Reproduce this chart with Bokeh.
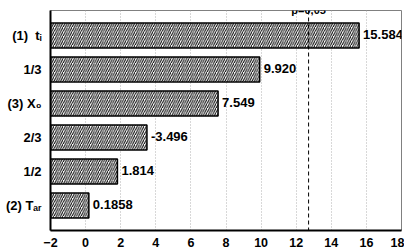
from bokeh.plotting import figure
from bokeh.models import ColumnDataSource, Span, Label, FixedTicker
from bokeh.core.properties import value
from bokeh.embed import file_html
from bokeh.resources import INLINE

# Data (top to bottom)
factors = ["(1)\u00a0\u00a0tᵢ", "1/3", "(3) X₀", "2/3", "1/2", "(2) Tₐᵣ"]
effects = [15.584, 9.920, 7.549, -3.496, 1.814, 0.1858]
x_ticks = [-2, 0, 2, 4, 6, 8, 10, 12, 14, 16, 18]
t_critical = 12.706
crit_label = "p=0,05"

n = len(factors)
ypos = [n - 1 - i for i in range(n)]
labels = [f"{v:.3f}" if abs(v) >= 1 else f"{v:.4f}" for v in effects]
src = ColumnDataSource(dict(
    y=ypos,
    right=[abs(v) for v in effects],
    left=[x_ticks[0]] * n,
    lab=labels,
))

FONT = "Liberation Sans"
y_lo, y_hi = -0.735, n - 1 + 0.735

p = figure(width=404, height=252, output_backend="svg", toolbar_location=None,
           x_range=(x_ticks[0], x_ticks[-1]), y_range=(y_lo, y_hi),
           min_border_left=50, min_border_right=3, min_border_top=10, min_border_bottom=22)

p.background_fill_color = "white"
p.border_fill_color = "white"
p.outline_line_color = "#808080"
p.outline_line_width = 1

p.hbar(y="y", left="left", right="right", height=0.74, source=src,
       fill_color="white", line_color="black", line_width=1.5,
       hatch_pattern="/", hatch_color="black", hatch_scale=4.5, hatch_weight=1)

p.text(x="right", y="y", text="lab", source=src, x_offset=4, y_offset=-1,
       text_font=value(FONT), text_font_style="bold", text_font_size="13px",
       text_baseline="middle", text_align="left", text_color="black")

p.add_layout(Span(location=t_critical, dimension="height", line_color="black",
                  line_width=1, line_dash="4 3"))

# critical-value label just above the frame
p.add_layout(Label(x=t_critical, y=y_hi, x_units="data", y_units="data", y_offset=1,
                   text=crit_label, text_align="center", text_baseline="alphabetic",
                   text_font=FONT, text_font_style="bold", text_font_size="11px",
                   text_color="black"))

# x axis (below)
xa = p.below[0]
xa.ticker = FixedTicker(ticks=x_ticks)
xa.axis_line_color = "black"
xa.axis_line_width = 2
xa.major_tick_in = 0
xa.major_tick_out = 0
xa.minor_tick_in = 0
xa.minor_tick_out = 0
xa.major_label_standoff = 7
xa.major_label_text_font = FONT
xa.major_label_text_font_style = "bold"
xa.major_label_text_font_size = "12.5px"
xa.major_label_text_color = "black"

# y axis
ya = p.left[0]
ya.ticker = FixedTicker(ticks=ypos)
ya.major_label_overrides = {y: f for y, f in zip(ypos, factors)}
ya.axis_line_color = "black"
ya.axis_line_width = 2
ya.major_tick_in = 0
ya.major_tick_out = 0
ya.minor_tick_in = 0
ya.minor_tick_out = 0
ya.major_label_standoff = 9
ya.major_label_text_font = FONT
ya.major_label_text_font_style = "bold"
ya.major_label_text_font_size = "13px"
ya.major_label_text_color = "black"

p.xgrid.grid_line_color = "#b0b0b0"
p.xgrid.grid_line_dash = "1 2"
p.xgrid.grid_line_width = 1
p.ygrid.grid_line_color = None

open("out.html", "w").write(file_html(p, INLINE))
